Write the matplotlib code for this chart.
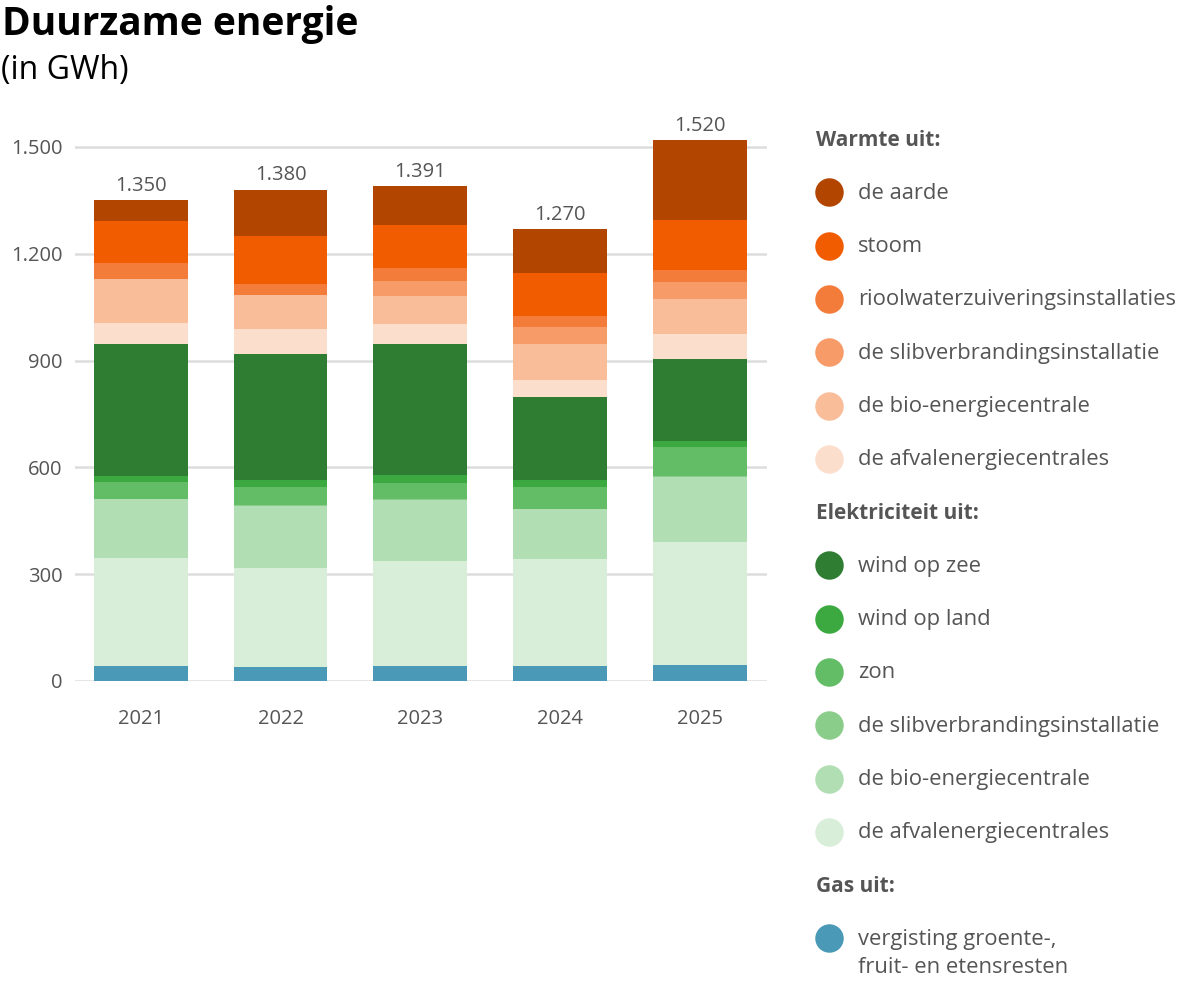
import matplotlib
matplotlib.use('Agg')
import matplotlib.pyplot as plt
from matplotlib.lines import Line2D
import numpy as np

years = ['2021', '2022', '2023', '2024', '2025']
totals = [1350, 1380, 1391, 1270, 1520]
total_labels = ['1.350', '1.380', '1.391', '1.270', '1.520']

# series, stacked from bottom to top (GWh)
gas_vergisting = [42, 40, 42, 42, 44]
elek_afval = [303, 277, 295, 300, 346]
elek_bio = [166, 175, 171, 140, 182]
elek_slib = [0, 2, 2, 2, 3]
elek_zon = [47, 51, 47, 60, 82]
elek_wind_land = [18, 20, 22, 20, 18]
elek_wind_zee = [371, 353, 367, 234, 229]
warmte_afval = [58, 71, 57, 48, 72]
warmte_bio = [125, 94, 79, 100, 97]
warmte_slib = [0, 0, 42, 49, 49]
warmte_riool = [45, 32, 35, 31, 32]
warmte_stoom = [118, 134, 121, 119, 141]
warmte_aarde = [57, 131, 111, 125, 225]

yticks = [0, 300, 600, 900, 1200, 1500]
ytick_labels = ['0', '300', '600', '900', '1.200', '1.500']

stack = [
    (gas_vergisting, '#4A99B7'),
    (elek_afval, '#D8EED9'),
    (elek_bio, '#B1DEB3'),
    (elek_slib, '#8ACC89'),
    (elek_zon, '#63BD66'),
    (elek_wind_land, '#3CA940'),
    (elek_wind_zee, '#2E7D32'),
    (warmte_afval, '#FCDECD'),
    (warmte_bio, '#F9BD99'),
    (warmte_slib, '#F79B68'),
    (warmte_riool, '#F47C3A'),
    (warmte_stoom, '#F25C00'),
    (warmte_aarde, '#B24500'),
]

legend_groups = [
    ('Warmte uit:', [('de aarde', '#B24500'), ('stoom', '#F25C00'),
                     ('rioolwaterzuiveringsinstallaties', '#F47C3A'),
                     ('de slibverbrandingsinstallatie', '#F79B68'),
                     ('de bio-energiecentrale', '#F9BD99'),
                     ('de afvalenergiecentrales', '#FCDECD')]),
    ('Elektriciteit uit:', [('wind op zee', '#2E7D32'), ('wind op land', '#3CA940'),
                            ('zon', '#63BD66'),
                            ('de slibverbrandingsinstallatie', '#8ACC89'),
                            ('de bio-energiecentrale', '#B1DEB3'),
                            ('de afvalenergiecentrales', '#D8EED9')]),
    ('Gas uit:', [('vergisting groente-,\nfruit- en etensresten', '#4A99B7')]),
]

FONT = ['Open Sans', 'DejaVu Sans']
plt.rcParams['font.family'] = FONT
GREY = '#555555'

W, H = 1200, 996
fig = plt.figure(figsize=(W / 100, H / 100), dpi=100)

# axes placed in pixel coordinates
ax_left, ax_right, ax_bottom_px, ax_top_px = 75, 767, 681, 111.4
ax = fig.add_axes([ax_left / W, 1 - ax_bottom_px / H,
                   (ax_right - ax_left) / W, (ax_bottom_px - ax_top_px) / H])

x = np.arange(len(years))
bottom = np.zeros(len(years))
for vals, col in stack:
    v = np.array(vals, dtype=float)
    ax.bar(x, v, bottom=bottom, width=0.67, color=col, edgecolor=col,
           linewidth=0, zorder=3)
    bottom += v

for xi, t, lab in zip(x, totals, total_labels):
    ax.text(xi, t + 12, lab, ha='center', va='bottom', fontsize=14.5,
            color=GREY, zorder=4)

ax.set_xlim(-0.47, 4.48)
ax.set_ylim(0, 1600)
ax.set_yticks(yticks)
ax.set_yticklabels(ytick_labels)
ax.set_xticks(x)
ax.set_xticklabels(years)
ax.tick_params(axis='both', length=0, labelsize=14.5, labelcolor=GREY)
ax.tick_params(axis='y', pad=9)
ax.tick_params(axis='x', pad=20.5)
ax.grid(axis='y', color='#DDDDDD', linewidth=1.8, zorder=0)
for s in ax.spines.values():
    s.set_visible(False)

# title
fig.text(2 / W, 1 - 25 / H, 'Duurzame energie', fontsize=28, fontweight='bold',
         color='#000000', ha='left', va='center')
fig.text(1 / W, 1 - 71 / H, '(in GWh)', fontsize=23, color='#000000',
         ha='left', va='center')

# legend
row_h = 53.3
yrow = 140
for header, items in legend_groups:
    fig.text(816 / W, 1 - yrow / H, header, fontsize=15, fontweight='bold',
             color=GREY, ha='left', va='center')
    yrow += row_h
    for label, col in items:
        fig.add_artist(Line2D([829 / W], [1 - (yrow - 1) / H], marker='o',
                              markersize=20.5, color=col, markeredgewidth=0,
                              linestyle='none', transform=fig.transFigure))
        if '\n' in label:
            l1, l2 = label.split('\n')
            fig.text(858 / W, 1 - yrow / H, l1, fontsize=15.8, color=GREY,
                     ha='left', va='center')
            fig.text(858 / W, 1 - (yrow + 28) / H, l2, fontsize=15.8, color=GREY,
                     ha='left', va='center')
        else:
            fig.text(858 / W, 1 - yrow / H, label, fontsize=15.8, color=GREY,
                     ha='left', va='center')
        yrow += row_h

fig.savefig('out.png', dpi=100)
